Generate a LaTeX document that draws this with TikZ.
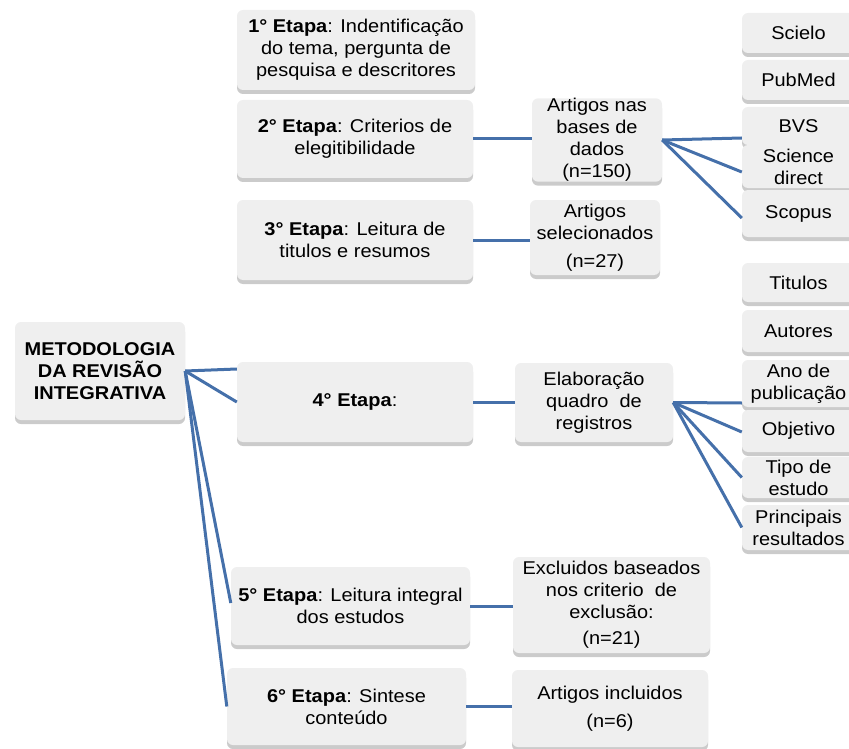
\documentclass[tikz,border=0pt]{standalone}
\usepackage{fontspec}
\setmainfont{Liberation Sans}[FakeStretch=1.08]
\usetikzlibrary{shadows,calc}
\definecolor{boxfill}{HTML}{EFEFEF}
\definecolor{linkblue}{HTML}{4570AA}
\begin{document}
\begin{tikzpicture}[x=1pt,y=-1pt,
  box/.style={fill=boxfill, draw=none, rounded corners=6pt, align=center, inner sep=0pt,
    font=\fontsize{18.5}{22}\selectfont,
    drop shadow={shadow xshift=0pt,shadow yshift=-4pt,fill=black!45,opacity=0.45}},
  wh/.style 2 args={minimum width=#1pt,minimum height=#2pt},
  side/.style={box, minimum width=113pt, minimum height=#1pt},
  link/.style={draw=linkblue, line width=3pt}]
\clip (0,0) rectangle (849,749);
\useasboundingbox (0,0) rectangle (849,749);

% main column
\node[box, wh={170}{98}] (meta) at (100,371) {\bfseries METODOLOGIA\\\bfseries DA REVISÃO\\\bfseries INTEGRATIVA};
\node[box, wh={238}{80}] (e1) at (356,50) {\textbf{1° Etapa}: Indentificação\\do tema, pergunta de\\pesquisa e descritores};
\node[box, wh={236}{78}] (e2) at (355,139) {\textbf{2° Etapa}: Criterios de\\elegitibilidade};
\node[box, wh={236}{80}] (e3) at (355,240) {\textbf{3° Etapa}: Leitura de\\titulos e resumos};
\node[box, wh={236}{80}] (e4) at (355,402) {\textbf{4° Etapa}:};
\node[box, wh={239}{78}] (e5) at (350.5,606) {\textbf{5° Etapa}: Leitura integral\\dos estudos};
\node[box, wh={239}{77}] (e6) at (346.5,706.5) {\textbf{6° Etapa}: Sintese\\conteúdo};

% middle column
\node[box, wh={130}{80}] (a1) at (597,140) {Artigos nas\\bases de\\dados\\(n=150)};
\node[box, wh={130}{75}] (a2) at (595,237.5) {Artigos\\selecionados\\[6pt](n=27)};
\node[box, wh={158}{79}] (el) at (594,402.5) {Elaboração\\quadro\ \ de\\registros};
\node[box, wh={197}{96}] (ex) at (611.5,605) {Excluidos baseados\\nos criterio\ \ de\\exclusão:\\[4pt](n=21)};
\node[box, wh={196}{77}] (ai) at (610,708.5) {Artigos incluidos\\[6pt](n=6)};

% right column
\node[side=40] (scielo) at (798.5,33) {Scielo};
\node[side=40] (pubmed) at (798.5,80) {PubMed};
\node[side=38] (bvs) at (798.5,126) {BVS};
\node[side=43] (sci) at (798.5,166.5) {Science\\direct};
\node[side=47] (scopus) at (798.5,213.5) {\raisebox{-3pt}{Scopus}};
\node[side=39] (tit) at (798.5,282.5) {Titulos};
\node[side=42] (aut) at (798.5,331) {Autores};
\node[side=47] (ano) at (798.5,383.5) {Ano de\\publicação};
\node[side=42] (obj) at (798.5,431) {Objetivo};
\node[side=41] (tipo) at (798.5,477.5) {Tipo de\\estudo};
\node[side=45] (princ) at (798.5,527.5) {Principais\\resultados};

% connectors
\draw[link] (meta.east) -- ($(e4.west)+(0,-33)$);
\draw[link] (meta.east) -- (e4.west);
\draw[link] (meta.east) -- ($(e5.west)+(0,-3)$);
\draw[link] (meta.east) -- (e6.west);

\draw[link] (e2.east) -- (e2.east -| a1.west);
\draw[link] (e3.east) -- (e3.east -| a2.west);
\draw[link] (e4.east) -- (e4.east -| el.west);
\draw[link] (e5.east) -- (e5.east -| ex.west);
\draw[link] (e6.east) -- (e6.east -| ai.west);

\draw[link] (a1.east) -- ($(bvs.west)+(0,12)$);
\draw[link] (a1.east) -- ($(sci.west)+(0,5.5)$);
\draw[link] (a1.east) -- ($(scopus.west)+(0,4.5)$);

\draw[link] (el.east) -- ($(ano.west)+(0,19.5)$);
\draw[link] (el.east) -- ($(obj.west)+(0,1)$);
\draw[link] (el.east) -- (tipo.west);
\draw[link] (el.east) -- (princ.west);
\end{tikzpicture}
\end{document}
